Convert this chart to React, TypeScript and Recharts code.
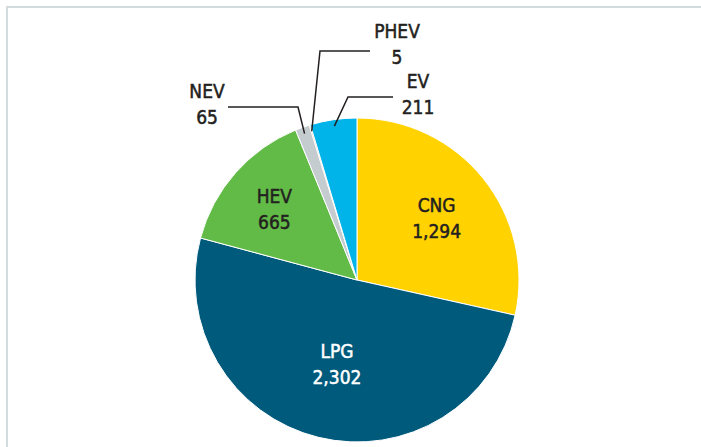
import { PieChart, Pie, Cell } from "recharts";

const categories = ["CNG", "LPG", "HEV", "NEV", "PHEV", "EV"];
const values = [1294, 2302, 665, 65, 5, 211];
const colors = ["#FFD200", "#005A7C", "#62BB46", "#C5CCD0", "#F26522", "#00B3E8"];

const data = categories.map((name, i) => ({ name, value: values[i] }));

const FONT = "'Liberation Sans Narrow', 'DejaVu Sans Condensed', Roboto, sans-serif";
const RAD = Math.PI / 180;

// inside labels: fraction of radius along the mid angle
const insideRadius: Record<string, number> = { CNG: 0.63, LPG: 0.52, HEV: 0.68 };
const insideFill: Record<string, string> = { CNG: "#231f20", LPG: "#ffffff", HEV: "#231f20" };

// outside labels: elbow point and text anchor, relative to the pie centre
const outside: Record<
  string,
  { elbow: [number, number]; lineEnd: [number, number]; text: [number, number] }
> = {
  NEV: { elbow: [-59, -173], lineEnd: [-129, -173], text: [-150, -188] },
  PHEV: { elbow: [-37, -229], lineEnd: [13, -229], text: [40, -248] },
  EV: { elbow: [-9, -183], lineEnd: [36, -183], text: [61, -198] },
};

function renderLabel(props: any) {
  const { cx, cy, midAngle, outerRadius, name, value } = props;
  const cos = Math.cos(-midAngle * RAD);
  const sin = Math.sin(-midAngle * RAD);
  const label = value.toLocaleString("en-US");

  if (insideRadius[name] !== undefined) {
    const r = outerRadius * insideRadius[name];
    const x = cx + r * cos;
    const y = cy + r * sin;
    const fill = insideFill[name];
    return (
      <text
        x={x}
        y={y}
        textAnchor="middle"
        fill={fill}
        stroke={fill}
        strokeWidth={0.5}
        fontFamily={FONT}
        fontSize={19}
      >
        <tspan x={x} dy={-4}>{name}</tspan>
        <tspan x={x} dy={26}>{label}</tspan>
      </text>
    );
  }

  const o = outside[name];
  const sx = cx + outerRadius * 0.96 * cos;
  const sy = cy + outerRadius * 0.96 * sin;
  const tx = cx + o.text[0];
  const ty = cy + o.text[1];
  return (
    <g>
      <polyline
        points={`${sx},${sy} ${cx + o.elbow[0]},${cy + o.elbow[1]} ${cx + o.lineEnd[0]},${cy + o.lineEnd[1]}`}
        fill="none"
        stroke="#231f20"
        strokeWidth={1.5}
      />
      <text
        x={tx}
        y={ty}
        textAnchor="middle"
        fill="#231f20"
        stroke="#231f20"
        strokeWidth={0.5}
        fontFamily={FONT}
        fontSize={19}
      >
        <tspan x={tx} dy={6}>{name}</tspan>
        <tspan x={tx} dy={26}>{label}</tspan>
      </text>
    </g>
  );
}

export default function App() {
  return (
    <div
      style={{
        position: "absolute",
        top: 0,
        left: 0,
        width: 701,
        height: 447,
        background: "#ffffff",
        overflow: "hidden",
      }}
    >
      <div
        style={{
          position: "absolute",
          left: 6,
          top: 6,
          width: 720,
          height: 470,
          borderLeft: "2px solid #d3dbde",
          borderTop: "2px solid #d3dbde",
        }}
      />
      <PieChart
        width={701}
        height={447}
        margin={{ top: 0, right: 0, bottom: 0, left: 0 }}
        style={{ position: "absolute", top: 0, left: 0 }}
      >
        <Pie
          data={data}
          dataKey="value"
          nameKey="name"
          cx={357}
          cy={280}
          outerRadius={162}
          startAngle={90}
          endAngle={-270}
          stroke="#ffffff"
          strokeWidth={1}
          label={renderLabel}
          labelLine={false}
          isAnimationActive={false}
        >
          {data.map((d, i) => (
            <Cell key={d.name} fill={colors[i]} />
          ))}
        </Pie>
      </PieChart>
    </div>
  );
}
